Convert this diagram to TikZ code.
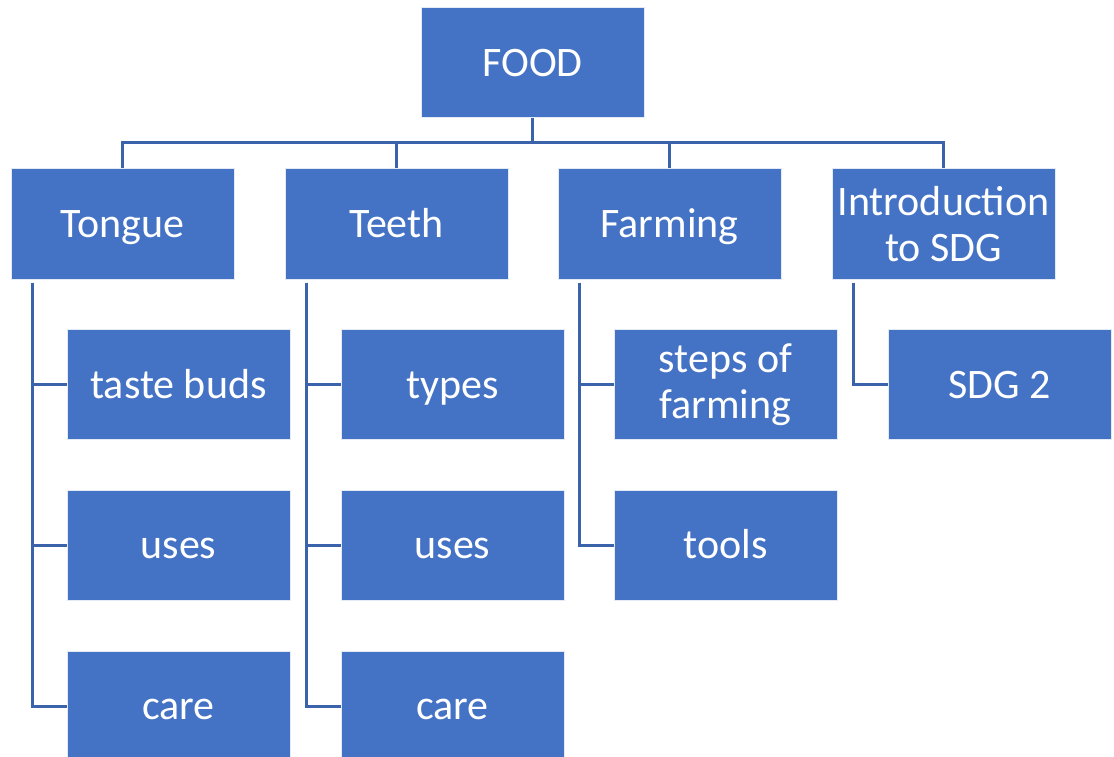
\documentclass[tikz,border=0pt]{standalone}
\usepackage{fontspec}
\setmainfont{Carlito}
\definecolor{boxblue}{HTML}{4472C4}
\definecolor{lineblue}{HTML}{3A63AB}
\begin{document}
\begin{tikzpicture}[x=1pt,y=-1pt,
  box/.style={draw=white!85!boxblue,line width=1pt,fill=boxblue,text=white,
    minimum width=223pt,minimum height=110pt,inner sep=0pt,
    font=\fontsize{42}{46}\selectfont},
  one/.style={text height=27pt,text depth=0pt},
  two/.style={align=center},
  conn/.style={draw=lineblue,line width=3pt}]
\useasboundingbox (0,0) rectangle (1114,757);
\fill[white] (0,0) rectangle (1114,757);
% level 0
\node[box,one] (food) at (532.5,63) {FOOD};
% level 1
\node[box,one] (tongue) at (122.5,224) {Tongue};
\node[box,one] (teeth) at (396.5,224) {Teeth};
\node[box,one] (farming) at (669.5,224) {Farming};
\node[box,two] (intro) at (943.5,224) {Introduction\\to SDG};
% level 2
\node[box,one] (taste) at (178.5,384.5) {taste buds};
\node[box,one] (tuses) at (178.5,545) {uses};
\node[box,one] (tcare) at (178.5,706) {care};
\node[box,one] (types) at (452.5,384.5) {types};
\node[box,one] (euses) at (452.5,545) {uses};
\node[box,one] (ecare) at (452.5,706) {care};
\node[box,two] (steps) at (725.5,384.5) {steps of\\farming};
\node[box,one] (tools) at (725.5,545) {tools};
\node[box,one] (sdg) at (999.5,384.5) {SDG 2};
% connectors level 0 -> 1
\coordinate (bus) at (532.5,143);
\draw[conn] (food.south) -- (bus);
\draw[conn] (tongue.north) |- (bus) -| (intro.north);
\draw[conn] (teeth.north) -- (teeth.north |- bus);
\draw[conn] (farming.north) -- (farming.north |- bus);
% connectors level 1 -> 2
\foreach \p/\c in {tongue/taste,tongue/tuses,tongue/tcare,teeth/types,teeth/euses,teeth/ecare,farming/steps,farming/tools,intro/sdg}{
  \draw[conn] ([xshift=21.5pt,yshift=-3pt]\p.south west) |- (\c.west);
}
\end{tikzpicture}
\end{document}
